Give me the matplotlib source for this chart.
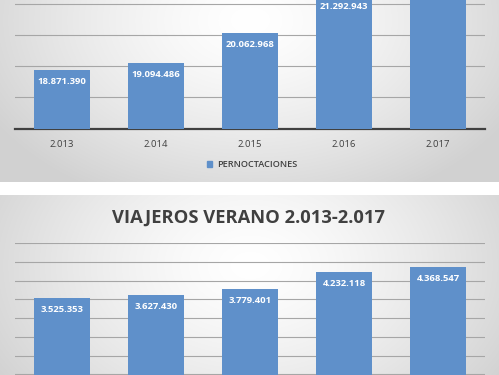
import numpy as np
import matplotlib
matplotlib.use('Agg')
import matplotlib.pyplot as plt
from matplotlib.patches import Patch

# ---- data ----
years = ['2.013', '2.014', '2.015', '2.016', '2.017']
pernoctaciones = [18871390, 19094486, 20062968, 21292943, 22300000]  # 2017 value off-image (estimated)
viajeros = [3525353, 3627430, 3779401, 4232118, 4368547]
serie_top = 'PERNOCTACIONES'
title_bottom = 'VIAJEROS VERANO 2.013-2.017'

W, H = 499, 375
BAR = '#5F90CA'
FONT = 'Open Sans'

fig = plt.figure(figsize=(W / 100, H / 100), dpi=100)
fig.patch.set_facecolor('white')


def fx(x):
    return x / W


def fy(y):
    return (H - y) / H


def gradient_panel(y0, y1, cy, rx, ry, edge=0.82):
    ax = fig.add_axes([0, fy(y1), 1, (y1 - y0) / H], zorder=0)
    h = int(round(y1 - y0))
    yy, xx = np.mgrid[0:h, 0:W]
    t = np.sqrt(((xx - 250) / rx) ** 2 + ((yy - cy) / ry) ** 2)
    t = np.clip(t, 0, 1)
    v = 1 - (1 - edge) * t ** 1.4
    img = np.dstack([v, v, v])
    ax.imshow(img, aspect='auto', extent=[0, 1, 0, 1], interpolation='bilinear')
    ax.set_axis_off()
    return ax


def fmt(v):
    return f'{v:,}'.replace(',', '.')


def style_axes(ax, ymin, ymax, step):
    ax.set_xlim(-0.5, len(years) - 0.5)
    ax.set_ylim(ymin, ymax)
    ax.set_yticks(np.arange(ymin, ymax + step / 2, step))
    ax.set_yticklabels([])
    ax.tick_params(axis='y', length=0)
    ax.yaxis.grid(True, color='#a6a6a6', linewidth=0.8)
    ax.set_axisbelow(True)
    ax.patch.set_alpha(0)
    for s in ['top', 'left', 'right']:
        ax.spines[s].set_visible(False)


def bars_with_labels(ax, vals):
    x = np.arange(len(years))
    bars = ax.bar(x, vals, width=0.6, color=BAR, zorder=3)
    for b, v in zip(bars, vals):
        xc = b.get_x() + b.get_width() / 2
        # label sits inside the bar end; skip ones that fall outside the cropped picture
        _, ypix = ax.transData.transform((xc, v))
        if ypix - 11.5 > H - 4:
            continue
        ax.annotate(fmt(v), (xc, v),
                    xytext=(0, -11.5), textcoords='offset pixels',
                    ha='center', va='center', color='white',
                    fontsize=6.8, fontweight='bold', family=FONT, zorder=4)
    return bars


# ---- top panel (PERNOCTACIONES, cropped) ----
gradient_panel(0, 182, 20, 300, 200)
ax1 = fig.add_axes([fx(15), fy(128.5), 470 / W, 6 * 31.2 / H], zorder=1)
style_axes(ax1, 17e6, 23e6, 1e6)
bars_top = bars_with_labels(ax1, pernoctaciones)
ax1.spines['bottom'].set_color('#404040')
ax1.spines['bottom'].set_linewidth(1.6)
ax1.set_xticks(np.arange(len(years)))
ax1.set_xticklabels(years, family=FONT, fontsize=6.8, color='#404040')
ax1.tick_params(axis='x', length=0, pad=8)
fig.legend([Patch(color=BAR)], [serie_top], loc='center',
           bbox_to_anchor=(fx(252), fy(165)), frameon=False,
           handlelength=0.55, handleheight=0.55, handletextpad=0.5,
           prop={'family': FONT, 'size': 6.6, 'weight': 'semibold'}, labelcolor='#404040')

# ---- bottom panel (VIAJEROS, cropped) ----
gradient_panel(195, 375, 70, 300, 210)
ax2 = fig.add_axes([fx(15), fy(243.3 + 5 * 37.4), 470 / W, 5 * 37.4 / H], zorder=1)
style_axes(ax2, 0, 5e6, 0.5e6)
bars_with_labels(ax2, viajeros)
ax2.spines['bottom'].set_visible(False)
ax2.set_xticks([])
fig.text(fx(248), fy(217.5), title_bottom, ha='center', va='center',
         family=FONT, fontsize=13.2, fontweight='bold', color='#404040')

fig.savefig('out.png', dpi=100)
